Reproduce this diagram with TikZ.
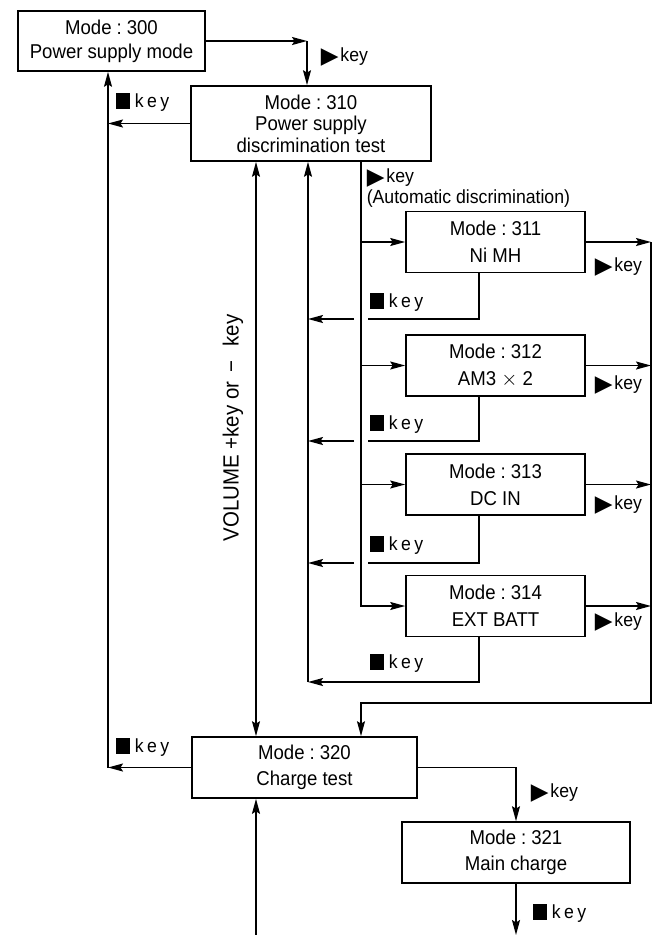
\documentclass[tikz,border=0pt]{standalone}
\usepackage{fontspec}
\setmainfont[FakeStretch=0.93]{Liberation Sans}
\newfontfamily\symf{DejaVu Sans}
\usetikzlibrary{arrows.meta}
\newcommand{\tri}{\raisebox{-1.5pt}{\fontsize{23}{23}\symf ▶}}
\newcommand{\sqr}{\rule[-2pt]{14pt}{16pt}}
\newcommand{\skey}{\sqr\hspace{5pt}{\addfontfeatures{LetterSpace=18}key}}
\newcommand{\tkey}{\tri\hspace{2pt}key}
\newcommand{\md}[1]{Mode\hspace{5pt}:\hspace{5pt}#1}
\begin{document}
\begin{tikzpicture}[x=1pt,y=-1pt,
  line width=1.6pt,
  box/.style={draw,rectangle,line width=1.6pt,align=center,inner sep=0pt,
    font=\fontsize{20}{24}\selectfont},
  sbox/.style={box,minimum width=179pt,minimum height=61pt},
  tip/.tip={Stealth[length=15pt,width=8pt,inset=2.5pt]},
  arr/.style={-tip},
  darr/.style={tip-tip},
  lbl/.style={anchor=west,inner sep=0pt,font=\fontsize{19}{22}\selectfont}]
\useasboundingbox (0,0) rectangle (660,935);

% boxes
\node[box,minimum width=187pt,minimum height=60pt] (b300) at (111.5,41) {\md{300}\\Power supply mode};
\node[box,minimum width=240pt,minimum height=75pt,font=\fontsize{20}{21.5}\selectfont] (b310) at (311,123.5) {\md{310}\\Power supply\\discrimination test};
\node[sbox] (b311) at (495.5,242) {\md{311}\\[3pt]Ni MH};
\node[sbox] (b312) at (495.5,365.5) {\md{312}\\[3pt]AM3 $\times$ 2};
\node[sbox] (b313) at (495.5,484.5) {\md{313}\\[3pt]DC IN};
\node[sbox] (b314) at (495.5,606) {\md{314}\\[3pt]EXT BATT};
\node[box,minimum width=225pt,minimum height=61pt] (b320) at (304.5,767.5) {\md{320}\\[2pt]Charge test};
\node[box,minimum width=228pt,minimum height=61pt] (b321) at (516,852.5) {\md{321}\\[2pt]Main charge};

% coordinates
\coordinate (c1) at (307,41);
\coordinate (L) at (108,767.5);
\coordinate (V) at (256,0);
\coordinate (Vb) at (256,935);
\coordinate (R) at (308,682);
\coordinate (B) at (361,0);
\coordinate (C) at (651,0);
\coordinate (Cb) at (651,703);
\coordinate (Cm) at (361,703);
\coordinate (E) at (516,935);
\coordinate (r1) at (479,319);
\coordinate (r2) at (479,441);
\coordinate (r3) at (479,563);
\coordinate (r4) at (479,682);

% 300 -> 310
\draw[arr] (b300.east) -- (c1);
\draw[arr] (c1) -- (c1 |- b310.north);
% back to 300
\draw[arr] (b310.west) -- (b310.west -| L);
\draw[arr] (b320.west) -- (L);
\draw[arr] (L) -- (L |- b300.south);
% volume line
\draw[darr] (b310.south -| V) -- (b320.north -| V);
\draw[arr] (Vb) -- (Vb |- b320.south);
% branch line
\draw[arr] (b310.south -| B) |- (b314.west);
\draw[arr] (B |- b311.west) -- (b311.west);
\draw[arr] (B |- b312.west) -- (b312.west);
\draw[arr] (B |- b313.west) -- (b313.west);
% returns
\draw[arr] (R) -- (R |- b310.south);
\draw (b311.south -| r1) -- (r1) -- (368,319);
\draw[arr] (354,319) -- (R |- r1);
\draw (b312.south -| r2) -- (r2) -- (368,441);
\draw[arr] (354,441) -- (R |- r2);
\draw (b313.south -| r3) -- (r3) -- (368,563);
\draw[arr] (354,563) -- (R |- r3);
\draw[arr] (b314.south -| r4) -- (r4) -- (R);
% collector
\draw[arr] (b311.east) -- (b311.east -| C);
\draw[arr] (b312.east) -- (b312.east -| C);
\draw[arr] (b313.east) -- (b313.east -| C);
\draw[arr] (b314.east) -- (b314.east -| C);
\draw[arr] (b311.east -| C) -- (Cb) -- (Cm) -- (Cm |- b320.north);
% 320 -> 321
\draw[arr] (b320.east) -| (b321.north);
\draw[arr] (b321.south) -- (E);

% labels
\node[lbl] (k1) at (320,57) {\tkey};
\node[lbl] (k2) at (115,102) {\skey};
\node[lbl] (k3) at (366,178) {\tkey};
\node[lbl] (k4) at (366,199) {(Automatic discrimination)};
\node[lbl] (k5) at (594,267) {\tkey};
\node[lbl] (k6) at (594,385) {\tkey};
\node[lbl] (k7) at (594,505) {\tkey};
\node[lbl] (k8) at (594,622) {\tkey};
\node[lbl] (k9) at (369,302) {\skey};
\node[lbl] (k10) at (369,424) {\skey};
\node[lbl] (k11) at (369,545) {\skey};
\node[lbl] (k12) at (369,663) {\skey};
\node[lbl] (k13) at (115,747) {\skey};
\node[lbl] (k14) at (530,793) {\tkey};
\node[lbl] (k15) at (532,913) {\skey};
\node[inner sep=0pt,rotate=90,font=\fontsize{22}{24}\selectfont] (vol) at (233,428) {VOLUME +key or\hspace{9pt}−\hspace{14pt}key};
\end{tikzpicture}
\end{document}
